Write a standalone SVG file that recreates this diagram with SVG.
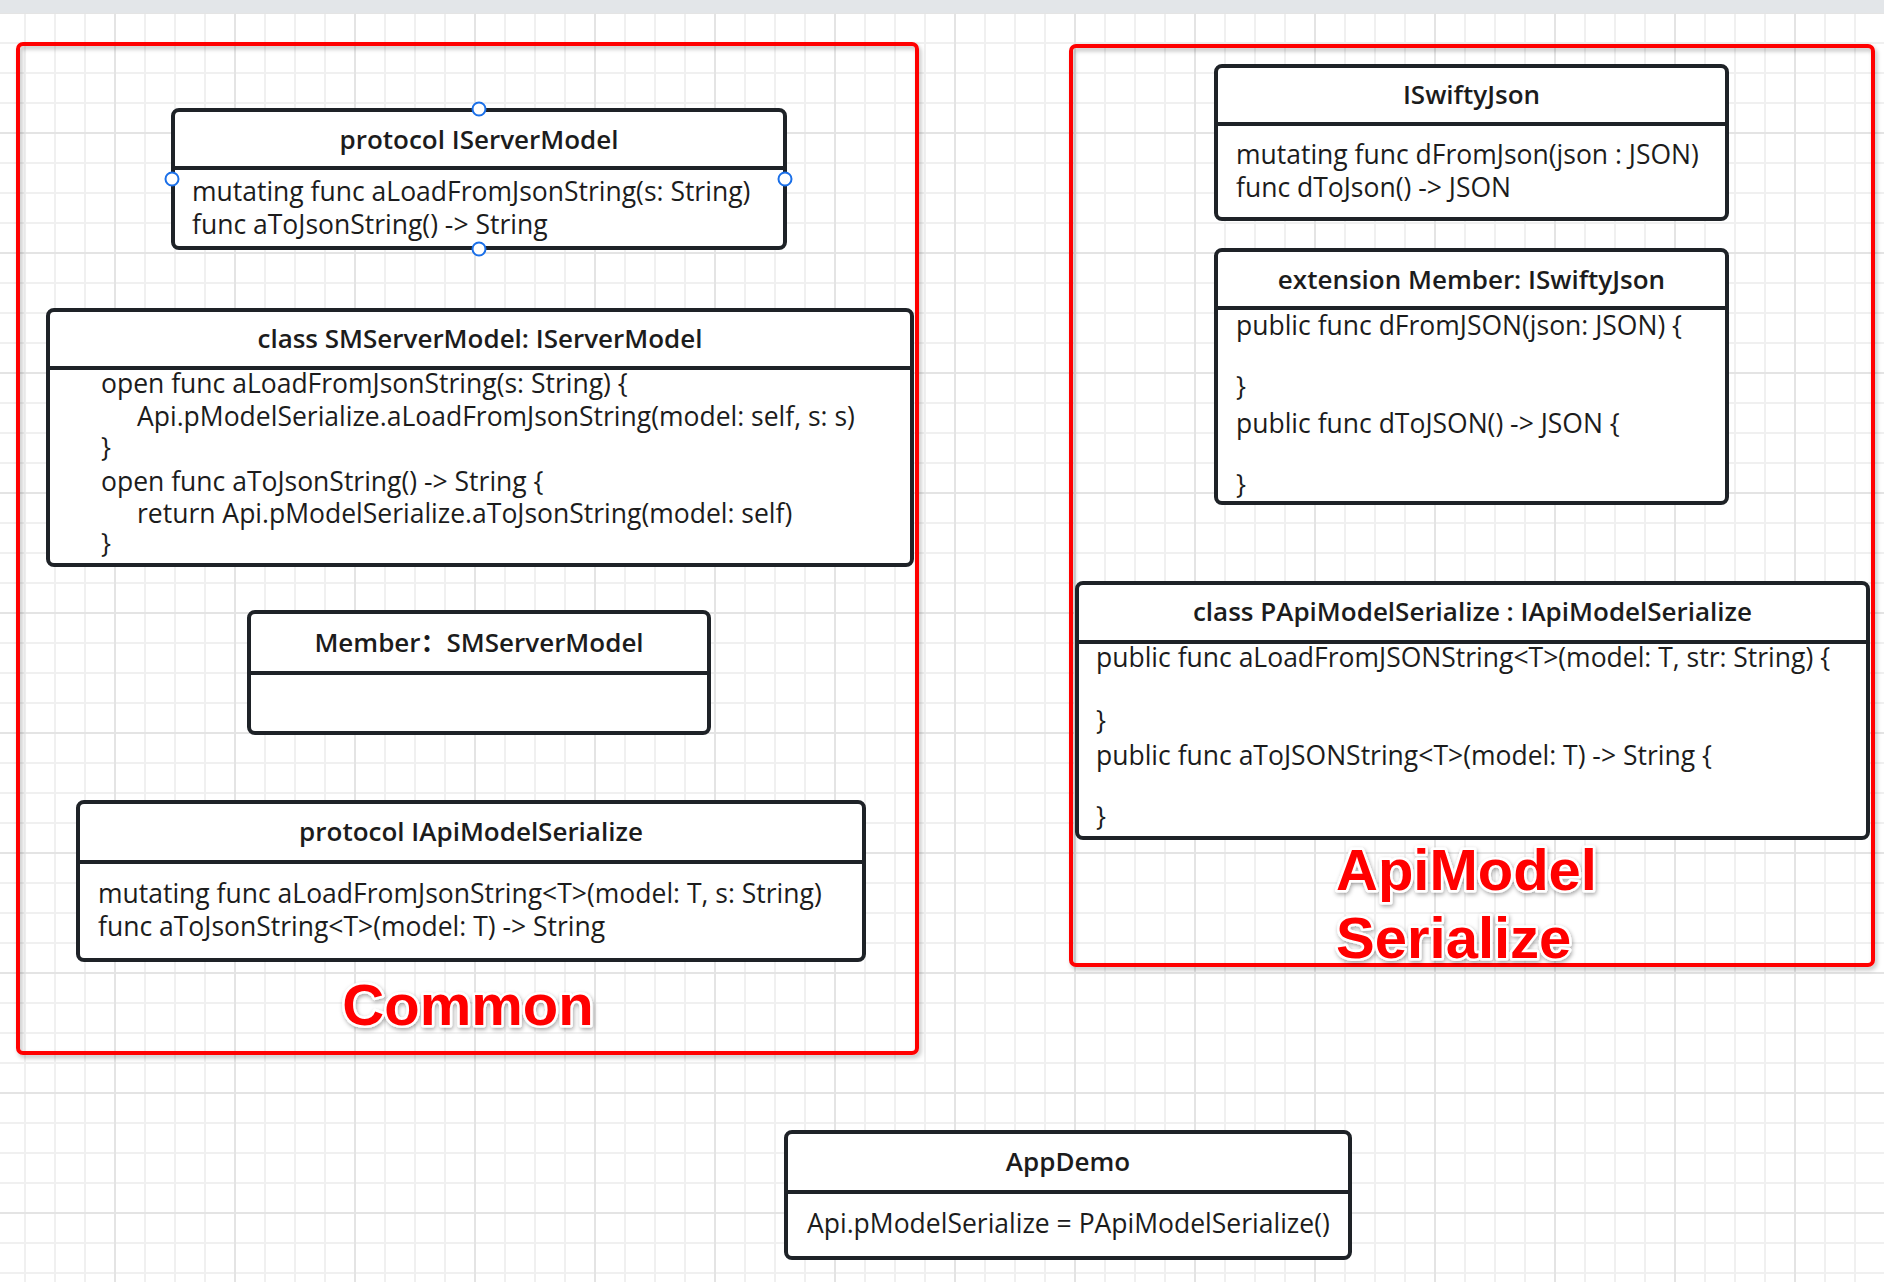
<svg xmlns="http://www.w3.org/2000/svg" width="1884" height="1282" viewBox="0 0 1884 1282">
<style>
.node rect.box{fill:#ffffff;stroke:#1e2227;stroke-width:4}
.node line.div{stroke:#1e2227;stroke-width:4}
.title{font-family:"Open Sans","Noto Sans","Noto Sans CJK SC",sans-serif;font-size:26px;font-weight:600;fill:#1c1c1c;text-anchor:middle}
.body{font-family:"Open Sans","Noto Sans","Noto Sans CJK SC",sans-serif;font-size:26.5px;fill:#1c1c1c}
.container{fill:none;stroke:#ff0000;stroke-width:4}
.label{font-family:"Liberation Sans",Arial,sans-serif;font-size:58px;font-weight:bold;fill:#ff0000;stroke:#ffffff;stroke-width:5;paint-order:stroke;stroke-linejoin:round}
.handle{fill:#ffffff;stroke:#1a6fe8;stroke-width:2}
</style>
<defs>
<pattern id="minor" patternUnits="userSpaceOnUse" x="10" y="-2" width="30" height="30">
<rect x="14" y="0" width="2" height="30" fill="#f0f0f0"/>
<rect x="0" y="14" width="30" height="2" fill="#f0f0f0"/>
</pattern>
<pattern id="major" patternUnits="userSpaceOnUse" x="10" y="-2" width="120" height="120">
<rect x="104" y="0" width="2" height="120" fill="#e4e4e4"/>
<rect x="0" y="14" width="120" height="2" fill="#e4e4e4"/>
</pattern>
<filter id="shadow" x="-5%" y="-5%" width="110%" height="110%">
<feDropShadow dx="2" dy="3" stdDeviation="2" flood-color="#000000" flood-opacity="0.25"/>
</filter>
<filter id="tshadow" x="-10%" y="-20%" width="120%" height="140%">
<feDropShadow dx="1" dy="2" stdDeviation="2" flood-color="#000000" flood-opacity="0.35"/>
</filter>
</defs>

<g id="background">
<rect x="0" y="0" width="1884" height="1282" fill="#ffffff"/>
<rect x="0" y="0" width="1884" height="1282" fill="url(#minor)"/>
<rect x="0" y="0" width="1884" height="1282" fill="url(#major)"/>
<rect x="0" y="0" width="1884" height="13" fill="#e3e6e9"/>
</g>

<g id="container-common">
<rect class="container" x="18" y="44" width="899" height="1009" rx="5" filter="url(#shadow)"/>
<text class="label" x="468" y="1025" text-anchor="middle" filter="url(#tshadow)">Common</text>
</g>

<g id="container-apimodel">
<rect class="container" x="1071" y="46" width="802" height="919" rx="5" filter="url(#shadow)"/>
</g>

<g id="connectors"></g>

<g id="node-IServerModel" class="node">
<rect class="box" x="173" y="110" width="612" height="138" rx="6"/>
<line class="div" x1="173" y1="168" x2="785" y2="168"/>
<text class="title" x="479" y="149">protocol IServerModel</text>
<text class="body" x="192" y="201">mutating func aLoadFromJsonString(s: String)</text>
<text class="body" x="192" y="234">func aToJsonString() -&gt; String</text>
<circle class="handle" cx="479" cy="109" r="6.5"/>
<circle class="handle" cx="172" cy="179" r="6.5"/>
<circle class="handle" cx="785" cy="179" r="6.5"/>
<circle class="handle" cx="479" cy="249" r="6.5"/>
</g>

<g id="node-SMServerModel" class="node">
<rect class="box" x="48" y="310" width="864" height="255" rx="6"/>
<line class="div" x1="48" y1="368" x2="912" y2="368"/>
<text class="title" x="480" y="348">class SMServerModel: IServerModel</text>
<text class="body" x="101" y="393">open func aLoadFromJsonString(s: String) {</text>
<text class="body" x="137" y="425.5">Api.pModelSerialize.aLoadFromJsonString(model: self, s: s)</text>
<text class="body" x="101" y="457">}</text>
<text class="body" x="101" y="490.5">open func aToJsonString() -&gt; String {</text>
<text class="body" x="137" y="523">return Api.pModelSerialize.aToJsonString(model: self)</text>
<text class="body" x="101" y="553">}</text>
</g>

<g id="node-Member" class="node">
<rect class="box" x="249" y="612" width="460" height="121" rx="6"/>
<line class="div" x1="249" y1="673" x2="709" y2="673"/>
<text class="title" x="479" y="652">Member：SMServerModel</text>
</g>

<g id="node-IApiModelSerialize" class="node">
<rect class="box" x="78" y="802" width="786" height="158" rx="6"/>
<line class="div" x1="78" y1="862" x2="864" y2="862"/>
<text class="title" x="471" y="841">protocol IApiModelSerialize</text>
<text class="body" x="98" y="903">mutating func aLoadFromJsonString&lt;T&gt;(model: T, s: String)</text>
<text class="body" x="98" y="936">func aToJsonString&lt;T&gt;(model: T) -&gt; String</text>
</g>

<g id="node-ISwiftyJson" class="node">
<rect class="box" x="1216" y="66" width="511" height="153" rx="6"/>
<line class="div" x1="1216" y1="124" x2="1727" y2="124"/>
<text class="title" x="1471.5" y="104">ISwiftyJson</text>
<text class="body" x="1236" y="164">mutating func dFromJson(json : JSON)</text>
<text class="body" x="1236" y="197">func dToJson() -&gt; JSON</text>
</g>

<g id="node-MemberExtension" class="node">
<rect class="box" x="1216" y="250" width="511" height="253" rx="6"/>
<line class="div" x1="1216" y1="308" x2="1727" y2="308"/>
<text class="title" x="1471.5" y="289">extension Member: ISwiftyJson</text>
<text class="body" x="1236" y="335">public func dFromJSON(json: JSON) {</text>
<text class="body" x="1236" y="396">}</text>
<text class="body" x="1236" y="432.5">public func dToJSON() -&gt; JSON {</text>
<text class="body" x="1236" y="494">}</text>
</g>

<g id="node-PApiModelSerialize" class="node">
<rect class="box" x="1077" y="583" width="791" height="255" rx="6"/>
<line class="div" x1="1077" y1="642" x2="1868" y2="642"/>
<text class="title" x="1472.5" y="621">class PApiModelSerialize : IApiModelSerialize</text>
<text class="body" x="1096" y="667">public func aLoadFromJSONString&lt;T&gt;(model: T, str: String) {</text>
<text class="body" x="1096" y="730">}</text>
<text class="body" x="1096" y="765">public func aToJSONString&lt;T&gt;(model: T) -&gt; String {</text>
<text class="body" x="1096" y="826">}</text>
</g>

<g id="label-apimodel">
<text class="label" x="1336" y="890" filter="url(#tshadow)">ApiModel</text>
<text class="label" x="1336" y="958" filter="url(#tshadow)">Serialize</text>
</g>

<g id="node-AppDemo" class="node">
<rect class="box" x="786" y="1132" width="564" height="126" rx="6"/>
<line class="div" x1="786" y1="1192" x2="1350" y2="1192"/>
<text class="title" x="1068" y="1171">AppDemo</text>
<text class="body" x="807" y="1233">Api.pModelSerialize = PApiModelSerialize()</text>
</g>
</svg>
